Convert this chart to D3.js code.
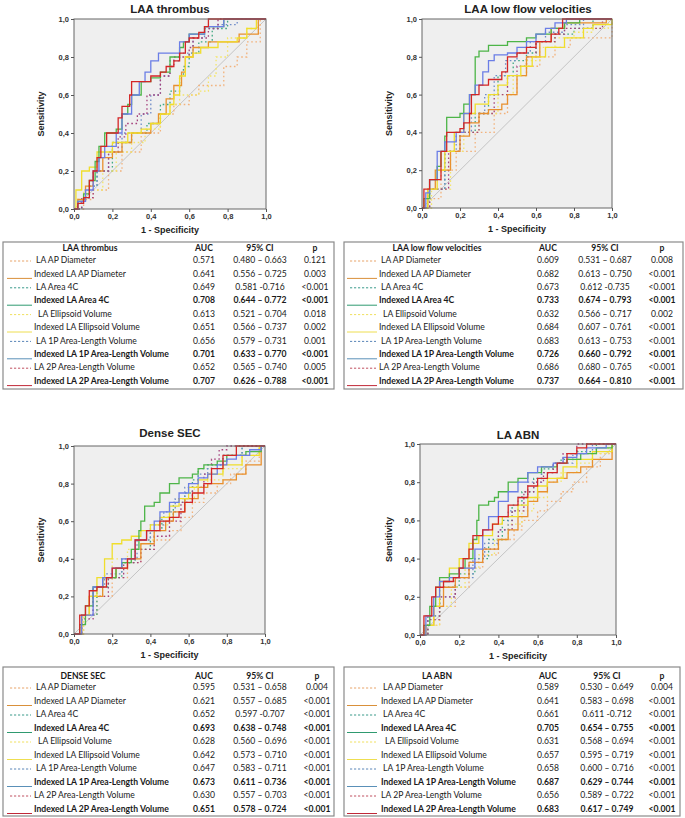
<!DOCTYPE html>
<html><head><meta charset="utf-8">
<script src="https://cdn.jsdelivr.net/npm/d3@7"></script>
<style>body{margin:0;background:#fff}svg{display:block}</style></head>
<body><svg id="c" width="685" height="818"></svg>
<script>
const seriesNames=["LA AP Diameter","Indexed LA AP Diameter","LA Area 4C","Indexed LA Area 4C","LA Ellipsoid Volume","Indexed LA Ellipsoid Volume","LA 1P Area-Length Volume","Indexed LA 1P Area-Length Volume","LA 2P Area-Length Volume","Indexed LA 2P Area-Length Volume"];
const seriesBold=[false,false,false,true,false,false,false,true,false,true];
const seriesDashed=[true,false,true,false,true,false,true,false,true,false];
const panelTitles=["LAA thrombus","LAA low flow velocities","Dense SEC","LA ABN"];
const tableHeaders=["LAA thrombus","LAA low flow velocities","DENSE SEC","LA ABN"];
const axisTicks=[0,0.2,0.4,0.6,0.8,1.0];

const thrombusAUC=["0.571","0.641","0.649","0.708","0.613","0.651","0.656","0.701","0.652","0.707"];
const thrombusCI=["0.480 – 0.663","0.556 – 0.725","0.581 -0.716","0.644 – 0.772","0.521 – 0.704","0.566 – 0.737","0.579 – 0.731","0.633 – 0.770","0.565 – 0.740","0.626 – 0.788"];
const thrombusP=["0.121","0.003","<0.001","<0.001","0.018","0.002","0.001","<0.001","0.005","<0.001"];
const lowflowAUC=["0.609","0.682","0.673","0.733","0.632","0.684","0.683","0.726","0.686","0.737"];
const lowflowCI=["0.531 – 0.687","0.613 – 0.750","0.612 -0.735","0.674 – 0.793","0.566 – 0.717","0.607 – 0.761","0.613 – 0.753","0.660 – 0.792","0.680 – 0.765","0.664 – 0.810"];
const lowflowP=["0.008","<0.001","<0.001","<0.001","0.002","<0.001","<0.001","<0.001","<0.001","<0.001"];
const secAUC=["0.595","0.621","0.652","0.693","0.628","0.642","0.647","0.673","0.630","0.651"];
const secCI=["0.531 – 0.658","0.557 – 0.685","0.597 -0.707","0.638 – 0.748","0.560 – 0.696","0.573 – 0.710","0.583 – 0.711","0.611 – 0.736","0.557 – 0.703","0.578 – 0.724"];
const secP=["0.004","<0.001","<0.001","<0.001","<0.001","<0.001","<0.001","<0.001","<0.001","<0.001"];
const abnAUC=["0.589","0.641","0.661","0.705","0.631","0.657","0.658","0.687","0.656","0.683"];
const abnCI=["0.530 – 0.649","0.583 – 0.698","0.611 -0.712","0.654 – 0.755","0.568 – 0.694","0.595 – 0.719","0.600 – 0.716","0.629 – 0.744","0.589 – 0.722","0.617 – 0.749"];
const abnP=["0.004","<0.001","<0.001","<0.001","<0.001","<0.001","<0.001","<0.001","<0.001","<0.001"];

// ROC curves: [1-specificity, sensitivity]
const thrombusROC=[
 [[0,0],[0.05,0.05],[0.1,0.1],[0.18,0.2],[0.25,0.3],[0.35,0.4],[0.45,0.5],[0.52,0.55],[0.6,0.6],[0.65,0.65],[0.78,0.75],[0.85,0.8],[0.9,0.88],[0.97,1],[1,1]],
 [[0,0],[0.02,0.05],[0.06,0.12],[0.1,0.2],[0.15,0.27],[0.2,0.3],[0.25,0.35],[0.3,0.4],[0.4,0.45],[0.44,0.5],[0.48,0.58],[0.52,0.65],[0.56,0.72],[0.58,0.8],[0.62,0.85],[0.7,0.88],[0.86,0.92],[0.96,1],[1,1]],
 [[0,0],[0.04,0.06],[0.08,0.12],[0.12,0.2],[0.2,0.35],[0.3,0.4],[0.38,0.45],[0.45,0.55],[0.5,0.62],[0.55,0.7],[0.57,0.75],[0.6,0.82],[0.65,0.88],[0.72,0.95],[0.8,1],[1,1]],
 [[0,0],[0.02,0.04],[0.05,0.08],[0.08,0.15],[0.11,0.25],[0.13,0.33],[0.16,0.4],[0.22,0.42],[0.25,0.5],[0.28,0.55],[0.3,0.6],[0.35,0.67],[0.4,0.69],[0.45,0.72],[0.5,0.8],[0.55,0.85],[0.57,0.88],[0.6,0.92],[0.68,0.96],[0.78,1],[1,1]],
 [[0,0],[0.02,0.05],[0.05,0.1],[0.15,0.2],[0.22,0.3],[0.3,0.35],[0.37,0.42],[0.45,0.5],[0.5,0.55],[0.55,0.6],[0.65,0.62],[0.7,0.7],[0.74,0.8],[0.8,0.9],[0.9,0.95],[0.96,1],[1,1]],
 [[0,0],[0.01,0.1],[0.04,0.2],[0.08,0.22],[0.12,0.3],[0.2,0.35],[0.28,0.4],[0.35,0.42],[0.4,0.45],[0.45,0.5],[0.5,0.55],[0.52,0.6],[0.55,0.7],[0.58,0.8],[0.62,0.82],[0.66,0.85],[0.75,0.88],[0.85,0.9],[0.9,0.95],[0.95,1],[1,1]],
 [[0,0],[0.04,0.06],[0.08,0.12],[0.12,0.2],[0.18,0.3],[0.25,0.4],[0.35,0.5],[0.4,0.6],[0.45,0.7],[0.5,0.78],[0.55,0.82],[0.62,0.9],[0.68,0.95],[0.75,0.97],[0.85,1],[1,1]],
 [[0,0],[0.02,0.04],[0.06,0.1],[0.1,0.2],[0.13,0.27],[0.16,0.33],[0.22,0.4],[0.25,0.5],[0.3,0.6],[0.34,0.67],[0.37,0.72],[0.4,0.78],[0.44,0.82],[0.55,0.88],[0.6,0.92],[0.68,0.96],[0.78,1],[1,1]],
 [[0,0],[0.04,0.06],[0.1,0.2],[0.18,0.3],[0.23,0.38],[0.27,0.45],[0.33,0.5],[0.38,0.6],[0.45,0.7],[0.5,0.75],[0.52,0.8],[0.6,0.85],[0.62,0.9],[0.7,0.95],[0.75,1],[1,1]],
 [[0,0],[0.02,0.03],[0.05,0.06],[0.08,0.15],[0.1,0.2],[0.12,0.27],[0.14,0.33],[0.17,0.4],[0.23,0.48],[0.25,0.54],[0.29,0.6],[0.3,0.67],[0.4,0.7],[0.45,0.72],[0.48,0.75],[0.52,0.78],[0.55,0.82],[0.58,0.88],[0.6,0.9],[0.65,0.93],[0.68,0.96],[0.7,1],[1,1]]
];
const lowflowROC=[
 [[0,0],[0.04,0.05],[0.1,0.2],[0.18,0.3],[0.28,0.4],[0.38,0.5],[0.45,0.6],[0.5,0.7],[0.55,0.75],[0.62,0.8],[0.7,0.85],[0.78,0.9],[1,1]],
 [[0,0],[0.03,0.1],[0.07,0.2],[0.15,0.3],[0.2,0.38],[0.25,0.45],[0.3,0.5],[0.35,0.52],[0.42,0.55],[0.45,0.6],[0.5,0.7],[0.55,0.8],[0.62,0.88],[0.68,0.95],[0.75,0.98],[0.97,1],[1,1]],
 [[0,0],[0.03,0.1],[0.12,0.3],[0.2,0.4],[0.28,0.5],[0.35,0.6],[0.4,0.7],[0.48,0.78],[0.55,0.82],[0.6,0.88],[0.7,0.92],[0.8,0.95],[0.9,1],[1,1]],
 [[0,0],[0.01,0.05],[0.04,0.15],[0.08,0.22],[0.1,0.3],[0.12,0.38],[0.13,0.48],[0.2,0.5],[0.22,0.55],[0.25,0.6],[0.28,0.8],[0.3,0.83],[0.35,0.86],[0.45,0.88],[0.55,0.9],[0.6,0.92],[0.68,0.95],[0.75,0.98],[0.83,1],[1,1]],
 [[0,0],[0.05,0.1],[0.15,0.3],[0.22,0.4],[0.3,0.5],[0.4,0.6],[0.48,0.7],[0.55,0.78],[0.62,0.85],[0.7,0.9],[0.8,0.93],[0.9,0.95],[0.98,1],[1,1]],
 [[0,0],[0.03,0.1],[0.08,0.2],[0.12,0.3],[0.17,0.4],[0.22,0.5],[0.28,0.55],[0.35,0.6],[0.4,0.65],[0.45,0.7],[0.52,0.75],[0.58,0.8],[0.65,0.85],[0.75,0.9],[0.85,0.95],[0.9,0.97],[1,1]],
 [[0,0],[0.04,0.1],[0.12,0.3],[0.18,0.4],[0.26,0.5],[0.33,0.6],[0.38,0.7],[0.44,0.78],[0.5,0.82],[0.57,0.88],[0.65,0.93],[0.75,0.97],[0.85,1],[1,1]],
 [[0,0],[0.02,0.08],[0.04,0.15],[0.08,0.3],[0.12,0.35],[0.18,0.4],[0.22,0.5],[0.25,0.6],[0.28,0.65],[0.32,0.72],[0.35,0.78],[0.38,0.81],[0.45,0.82],[0.5,0.85],[0.55,0.88],[0.6,0.92],[0.65,0.95],[0.7,0.98],[0.76,1],[1,1]],
 [[0,0],[0.04,0.1],[0.14,0.3],[0.2,0.4],[0.3,0.5],[0.38,0.6],[0.45,0.7],[0.5,0.75],[0.55,0.8],[0.6,0.88],[0.7,0.92],[0.75,0.95],[0.95,1],[1,1]],
 [[0,0],[0.01,0.1],[0.04,0.15],[0.1,0.3],[0.13,0.4],[0.2,0.42],[0.22,0.45],[0.25,0.5],[0.26,0.6],[0.3,0.65],[0.35,0.68],[0.42,0.72],[0.45,0.8],[0.5,0.82],[0.55,0.85],[0.6,0.88],[0.68,0.92],[0.72,0.95],[0.74,1],[1,1]]
];
const secROC=[
 [[0,0],[0.05,0.1],[0.12,0.2],[0.2,0.3],[0.28,0.38],[0.35,0.45],[0.42,0.5],[0.5,0.55],[0.56,0.62],[0.62,0.7],[0.68,0.75],[0.75,0.8],[0.82,0.85],[0.9,0.92],[0.97,1],[1,1]],
 [[0,0],[0.04,0.1],[0.08,0.2],[0.15,0.3],[0.22,0.35],[0.28,0.4],[0.35,0.48],[0.42,0.55],[0.48,0.6],[0.52,0.65],[0.58,0.72],[0.65,0.78],[0.7,0.8],[0.78,0.82],[0.85,0.85],[0.9,0.9],[0.98,1],[1,1]],
 [[0,0],[0.04,0.1],[0.12,0.25],[0.18,0.3],[0.25,0.38],[0.32,0.45],[0.4,0.55],[0.46,0.62],[0.52,0.7],[0.58,0.75],[0.62,0.82],[0.65,0.88],[0.7,0.9],[0.78,0.95],[0.88,1],[1,1]],
 [[0,0],[0.03,0.05],[0.06,0.15],[0.1,0.25],[0.15,0.3],[0.22,0.35],[0.25,0.38],[0.3,0.45],[0.34,0.55],[0.35,0.6],[0.37,0.68],[0.42,0.7],[0.45,0.75],[0.5,0.8],[0.55,0.83],[0.62,0.85],[0.65,0.88],[0.68,0.9],[0.75,0.92],[0.8,0.95],[0.9,0.97],[0.98,1],[1,1]],
 [[0,0],[0.05,0.1],[0.1,0.2],[0.15,0.3],[0.2,0.4],[0.28,0.45],[0.35,0.5],[0.42,0.58],[0.5,0.65],[0.58,0.72],[0.63,0.78],[0.7,0.82],[0.78,0.88],[0.88,0.95],[0.97,1],[1,1]],
 [[0,0],[0.04,0.1],[0.08,0.2],[0.12,0.3],[0.16,0.4],[0.2,0.48],[0.25,0.5],[0.3,0.52],[0.35,0.55],[0.4,0.58],[0.45,0.62],[0.5,0.68],[0.55,0.72],[0.6,0.78],[0.65,0.82],[0.7,0.85],[0.78,0.9],[0.88,0.95],[0.97,1],[1,1]],
 [[0,0],[0.04,0.1],[0.1,0.25],[0.16,0.32],[0.25,0.4],[0.33,0.5],[0.4,0.58],[0.47,0.65],[0.53,0.72],[0.58,0.78],[0.65,0.85],[0.7,0.9],[0.78,0.95],[0.88,1],[1,1]],
 [[0,0],[0.04,0.1],[0.1,0.25],[0.15,0.3],[0.2,0.35],[0.25,0.4],[0.32,0.5],[0.38,0.55],[0.42,0.6],[0.45,0.65],[0.5,0.7],[0.55,0.75],[0.6,0.8],[0.65,0.83],[0.7,0.85],[0.75,0.9],[0.8,0.93],[0.85,0.95],[0.92,0.98],[0.98,1],[1,1]],
 [[0,0],[0.04,0.08],[0.1,0.2],[0.18,0.3],[0.26,0.38],[0.35,0.45],[0.42,0.52],[0.5,0.6],[0.56,0.7],[0.62,0.78],[0.68,0.85],[0.72,0.93],[0.76,0.98],[0.8,1],[1,1]],
 [[0,0],[0.03,0.1],[0.06,0.15],[0.08,0.23],[0.12,0.25],[0.17,0.3],[0.2,0.35],[0.28,0.4],[0.32,0.5],[0.38,0.55],[0.45,0.6],[0.5,0.62],[0.55,0.65],[0.58,0.7],[0.62,0.75],[0.68,0.8],[0.72,0.88],[0.78,0.95],[0.85,1],[1,1]]
];
const abnROC=[
 [[0,0],[0.04,0.05],[0.1,0.15],[0.18,0.25],[0.25,0.35],[0.32,0.42],[0.4,0.5],[0.48,0.55],[0.52,0.6],[0.6,0.65],[0.65,0.7],[0.72,0.75],[0.78,0.8],[0.85,0.88],[0.92,0.95],[0.98,1],[1,1]],
 [[0,0],[0.03,0.05],[0.07,0.15],[0.12,0.25],[0.18,0.3],[0.25,0.38],[0.32,0.45],[0.4,0.5],[0.45,0.55],[0.5,0.62],[0.55,0.7],[0.6,0.75],[0.65,0.8],[0.7,0.82],[0.75,0.85],[0.82,0.88],[0.88,0.92],[0.98,1],[1,1]],
 [[0,0],[0.04,0.1],[0.1,0.25],[0.2,0.32],[0.28,0.4],[0.35,0.5],[0.42,0.6],[0.47,0.68],[0.52,0.75],[0.58,0.82],[0.62,0.87],[0.68,0.9],[0.72,0.92],[0.8,0.96],[0.9,1],[1,1]],
 [[0,0],[0.02,0.05],[0.05,0.15],[0.08,0.25],[0.1,0.3],[0.15,0.32],[0.2,0.35],[0.23,0.4],[0.27,0.5],[0.29,0.6],[0.3,0.68],[0.35,0.7],[0.38,0.72],[0.4,0.75],[0.45,0.8],[0.5,0.82],[0.55,0.85],[0.62,0.88],[0.7,0.9],[0.75,0.92],[0.82,0.95],[0.9,0.98],[0.98,1],[1,1]],
 [[0,0],[0.04,0.05],[0.1,0.15],[0.16,0.25],[0.23,0.35],[0.3,0.42],[0.38,0.5],[0.45,0.58],[0.52,0.65],[0.58,0.72],[0.65,0.8],[0.72,0.85],[0.8,0.9],[0.88,0.95],[0.96,1],[1,1]],
 [[0,0],[0.03,0.05],[0.07,0.15],[0.1,0.28],[0.15,0.35],[0.2,0.4],[0.25,0.48],[0.3,0.52],[0.37,0.58],[0.42,0.62],[0.5,0.68],[0.55,0.72],[0.6,0.78],[0.65,0.82],[0.73,0.88],[0.8,0.92],[0.88,0.96],[0.98,1],[1,1]],
 [[0,0],[0.04,0.1],[0.1,0.2],[0.18,0.3],[0.27,0.4],[0.33,0.48],[0.4,0.55],[0.45,0.65],[0.5,0.72],[0.55,0.8],[0.62,0.85],[0.7,0.9],[0.78,0.95],[0.88,1],[1,1]],
 [[0,0],[0.03,0.1],[0.07,0.2],[0.1,0.28],[0.15,0.3],[0.2,0.35],[0.28,0.45],[0.32,0.55],[0.35,0.62],[0.4,0.7],[0.45,0.75],[0.5,0.8],[0.55,0.85],[0.6,0.88],[0.68,0.9],[0.73,0.93],[0.8,0.95],[0.85,0.98],[0.95,1],[1,1]],
 [[0,0],[0.04,0.08],[0.1,0.2],[0.18,0.3],[0.25,0.38],[0.32,0.45],[0.4,0.55],[0.47,0.65],[0.53,0.75],[0.58,0.8],[0.63,0.85],[0.68,0.9],[0.73,0.95],[0.8,1],[1,1]],
 [[0,0],[0.02,0.1],[0.06,0.2],[0.08,0.25],[0.12,0.28],[0.17,0.3],[0.2,0.35],[0.22,0.4],[0.25,0.45],[0.27,0.52],[0.32,0.55],[0.37,0.58],[0.4,0.62],[0.45,0.68],[0.5,0.72],[0.55,0.78],[0.6,0.82],[0.65,0.85],[0.7,0.9],[0.75,0.95],[0.8,0.98],[0.85,1],[1,1]]
];

const plotColors=["#f2b27c","#e8902e","#3fa882","#4db548","#f3e56a","#f0de2c","#6f8cc8","#6b7ee6","#a5417c","#d42626"];
const legendColors=["#e8a46a","#d9903a","#3a9a8a","#2f9a70","#f0e060","#eede50","#5a86b8","#5a90b8","#c05060","#c02838"];

const panels=[
 {roc:thrombusROC,auc:thrombusAUC,ci:thrombusCI,p:thrombusP,
  plot:{x:74,y:19,w:192,h:190},titleX:170,titleY:10,ylabX:42,
  table:{x:3,y:242,w:331,h:147,head:249,row0:261,step:13.4,line0:4,line1:29,lab:31,aucX:201,ciX:257,pX:312,headX:87,headBold:true}},
 {roc:lowflowROC,auc:lowflowAUC,ci:lowflowCI,p:lowflowP,
  plot:{x:422,y:19,w:190,h:189},titleX:528,titleY:10,ylabX:390,
  table:{x:344,y:242,w:339,h:147,head:249,row0:261,step:13.4,line0:3,line1:33,lab:35,aucX:204,ciX:261,pX:318,headX:93,headBold:true}},
 {roc:secROC,auc:secAUC,ci:secCI,p:secP,
  plot:{x:74,y:446,w:191,h:188},titleX:170,titleY:434,ylabX:42,
  table:{x:3,y:667,w:331,h:149,head:677,row0:688,step:13.5,line0:4,line1:29,lab:31,aucX:201,ciX:257,pX:314,headX:80,headBold:true}},
 {roc:abnROC,auc:abnAUC,ci:abnCI,p:abnP,
  plot:{x:420,y:444,w:196,h:191},titleX:518,titleY:436,ylabX:390,
  table:{x:344,y:667,w:336,h:149,head:677,row0:688,step:13.5,line0:3,line1:33,lab:37,aucX:204,ciX:263,pX:318,headX:93,headBold:true}}
];

const svg=d3.select("#c");
const fmt=d=>d3.format(".1f")(d).replace(".",",");
const order=[0,2,4,6,8,1,5,3,7,9];

panels.forEach((P,pi)=>{
  const pl=P.plot;
  const x=d3.scaleLinear().domain([0,1]).range([pl.x,pl.x+pl.w]);
  const y=d3.scaleLinear().domain([0,1]).range([pl.y+pl.h,pl.y]);
  svg.append("text").attr("x",P.titleX).attr("y",P.titleY).attr("text-anchor","middle")
    .attr("dominant-baseline","middle").attr("font-family","Liberation Sans, Arial, sans-serif")
    .attr("font-weight","bold").attr("font-size",11.5).attr("fill","#222").text(panelTitles[pi]);
  svg.append("rect").attr("x",pl.x).attr("y",pl.y).attr("width",pl.w).attr("height",pl.h)
    .attr("fill","#efefef");
  svg.append("line").attr("x1",x(0)).attr("y1",y(0)).attr("x2",x(1)).attr("y2",y(1))
    .attr("stroke","#c4c4c4").attr("stroke-width",1);
  const line=d3.line().x(d=>x(d[0])).y(d=>y(d[1])).curve(d3.curveStepAfter);
  order.forEach(si=>{
    svg.append("path").datum(P.roc[si]).attr("d",line).attr("fill","none")
      .attr("stroke",plotColors[si]).attr("stroke-width",seriesDashed[si]?1.3:1.3)
      .attr("stroke-dasharray",seriesDashed[si]?"1.6,2.6":null);
  });
  svg.append("rect").attr("x",pl.x).attr("y",pl.y).attr("width",pl.w).attr("height",pl.h)
    .attr("fill","none").attr("stroke","#666").attr("stroke-width",1);
  const xa=svg.append("g").attr("transform",`translate(0,${pl.y+pl.h})`)
    .call(d3.axisBottom(x).tickValues(axisTicks).tickFormat(fmt).tickSize(3).tickPadding(2));
  const ya=svg.append("g").attr("transform",`translate(${pl.x},0)`)
    .call(d3.axisLeft(y).tickValues(axisTicks).tickFormat(fmt).tickSize(3).tickPadding(2));
  [xa,ya].forEach(a=>{
    a.select(".domain").remove();
    a.selectAll("line").attr("stroke","#555");
    a.selectAll("text").attr("font-family","Liberation Sans, Arial, sans-serif").attr("font-size",7.5)
      .attr("font-weight","bold").attr("fill","#333");
  });
  svg.append("text").attr("x",pl.x+pl.w/2).attr("y",pl.y+pl.h+22).attr("text-anchor","middle")
    .attr("dominant-baseline","middle").attr("font-family","Liberation Sans, Arial, sans-serif")
    .attr("font-weight","bold").attr("font-size",9).attr("fill","#222").text("1 - Specificity");
  svg.append("text").attr("transform",`translate(${P.ylabX},${pl.y+pl.h/2}) rotate(-90)`)
    .attr("text-anchor","middle").attr("dominant-baseline","middle")
    .attr("font-family","Liberation Sans, Arial, sans-serif")
    .attr("font-weight","bold").attr("font-size",9).attr("fill","#222").text("Sensitivity");

  // table
  const T=P.table;
  const tg=svg.append("g").attr("transform",`translate(${T.x},0)`);
  tg.append("rect").attr("x",0).attr("y",T.y).attr("width",T.w).attr("height",T.h)
    .attr("fill","#fff").attr("stroke","#8a8a8a").attr("stroke-width",1.2);
  const tf="Lato, Carlito, 'Open Sans', sans-serif";
  const txt=(xx,yy,s,anchor,bold)=>tg.append("text").attr("x",xx).attr("y",yy)
    .attr("text-anchor",anchor).attr("dominant-baseline","middle").attr("font-family",tf)
    .attr("font-size",8.6).attr("font-weight",bold?"bold":"normal").attr("fill","#1a1a1a").text(s);
  txt(T.headX,T.head,tableHeaders[pi],"middle",true);
  txt(T.aucX,T.head,"AUC","middle",true);
  txt(T.ciX,T.head,"95% CI","middle",true);
  txt(T.pX,T.head,"p","middle",true);
  seriesNames.forEach((nm,i)=>{
    const ry=T.row0+i*T.step;
    if(seriesDashed[i]){
      tg.append("line").attr("x1",T.line0+3).attr("x2",T.line1-1).attr("y1",ry).attr("y2",ry)
        .attr("stroke",legendColors[i]).attr("stroke-width",1).attr("stroke-dasharray","2.2,1.8");
    } else {
      tg.append("line").attr("x1",T.line0).attr("x2",T.line1).attr("y1",ry+4).attr("y2",ry+4)
        .attr("stroke",legendColors[i]).attr("stroke-width",1);
    }
    const lx=T.lab+(i===4?2:0)+(i===8?-2:0)+(seriesDashed[i]?2:0);
    txt(lx,ry,nm,"start",seriesBold[i]);
    txt(T.aucX,ry,P.auc[i],"middle",seriesBold[i]);
    txt(T.ciX,ry,P.ci[i],"middle",seriesBold[i]);
    txt(T.pX,ry,P.p[i],"middle",seriesBold[i]);
  });
});
</script></body></html>
